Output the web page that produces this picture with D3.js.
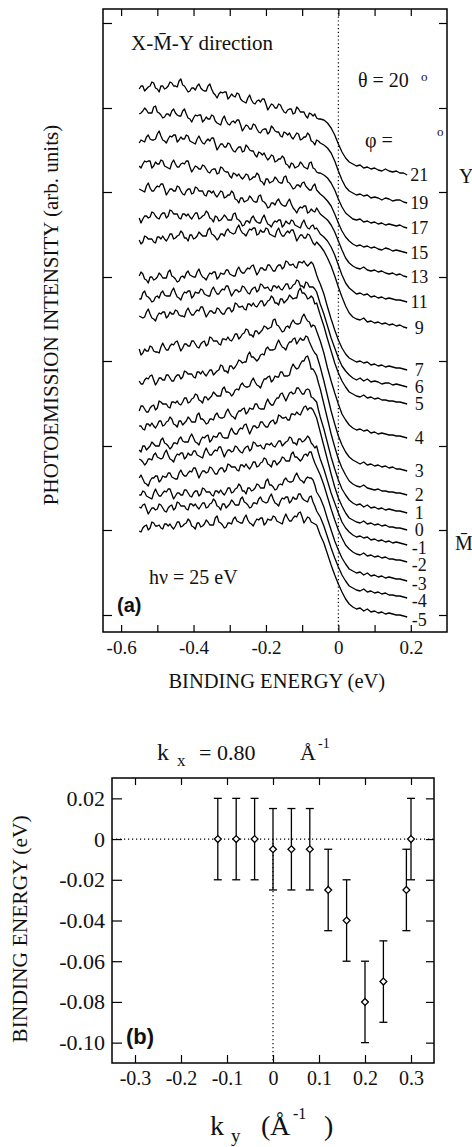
<!DOCTYPE html>
<html>
<head>
<meta charset="utf-8">
<script src="https://cdn.jsdelivr.net/npm/d3@7"></script>
<style>
  body { margin: 0; background: #fff; }
  svg { display: block; }
</style>
</head>
<body>
<div id="vis"></div>
<script>
// ---- panel (a) data : photoemission spectra, stacked ----
// finer sampling below -0.05 eV, where the noise is
var energies = [
  -0.550,-0.545,-0.540,-0.535,-0.530,-0.525,-0.520,-0.515,-0.510,-0.505,
  -0.500,-0.495,-0.490,-0.485,-0.480,-0.475,-0.470,-0.465,-0.460,-0.455,
  -0.450,-0.445,-0.440,-0.435,-0.430,-0.425,-0.420,-0.415,-0.410,-0.405,
  -0.400,-0.395,-0.390,-0.385,-0.380,-0.375,-0.370,-0.365,-0.360,-0.355,
  -0.350,-0.345,-0.340,-0.335,-0.330,-0.325,-0.320,-0.315,-0.310,-0.305,
  -0.300,-0.295,-0.290,-0.285,-0.280,-0.275,-0.270,-0.265,-0.260,-0.255,
  -0.250,-0.245,-0.240,-0.235,-0.230,-0.225,-0.220,-0.215,-0.210,-0.205,
  -0.200,-0.195,-0.190,-0.185,-0.180,-0.175,-0.170,-0.165,-0.160,-0.155,
  -0.150,-0.145,-0.140,-0.135,-0.130,-0.125,-0.120,-0.115,-0.110,-0.105,
  -0.100,-0.095,-0.090,-0.085,-0.080,-0.075,-0.070,-0.065,-0.060,-0.055,
  -0.05,-0.04,-0.03,-0.02,-0.01,0,0.01,0.02,0.03,0.04,
  0.05,0.06,0.07,0.08,0.09,0.10,0.11,0.12,0.13,0.14,0.15,0.16,0.17,0.18,0.19]

var phiLabels = ["21","19","17","15","13","11","9","7","6","5","4","3","2","1","0","-1","-2","-3","-4","-5"]
// vertical offset of each spectrum (arb. units)
var phiOffsets = [440,412,387,362,338,313,287,245,228,211,177,144,120,102,85,70,53,34,17,-2]

var phi21 = [86,89,89,84,86,88,89,93,92,87, 86,83,89,89,86,87,89,93,92,89, 89,88,94,96,90,89,86,83,84,87, 87,85,89,91,87,85,84,84,89,91,
  86,82,80,77,81,83,82,83,83,76, 78,81,79,78,82,81,76,74,73,72, 77,80,75,72,71,74,75,73,76,76, 71,65,68,71,70,67,67,71,70,66,
  63,62,65,66,66,61,62,68,66,63, 63,63,59,57,62,61,59,61,57,56,
  56,55,52,47,40,31,23,17,13,11, 9,10,7,8,6,7,5,4,6,4, 3,4,2,2,0]
var phi19 = [89,90,92,95,93,90,90,90,96,97, 91,90,88,85,86,89,89,87,92,94, 90,88,87,87,92,94,89,85,84,81, 85,88,87,88,88,81,83,86,84,84,
  88,87,82,80,79,78,84,87,82,79, 78,81,82,80,83,83,78,72,75,78, 77,74,74,79,78,74,71,70,73,74, 74,69,71,77,75,72,71,71,67,66,
  71,70,68,70,66,64,67,70,69,63, 64,66,66,70,68,62,61,58,63,62,
  60,58,55,50,42,32,23,16,12,10, 8,9,7,8,5,6,5,3,5,4, 2,3,3,1,0]
var phi17 = [85,88,87,86,91,93,89,88,88,89, 94,97,92,88,87,85,89,92,91,93, 93,86,88,91,89,89,93,92,87,86, 85,84,89,92,88,85,84,87,89,87,
  90,90,84,78,81,84,84,81,81,85, 84,80,77,76,79,81,81,76,77,83, 81,78,77,77,73,71,76,75,73,75, 71,68,70,73,72,66,67,69,69,72,
  70,64,63,60,65,64,60,61,62,66, 64,61,60,59,65,66,60,59,56,55,
  55,53,50,45,38,29,21,15,12,9, 8,9,6,7,5,6,4,5,3,4, 3,2,3,1,0]
var phi15 = [87,85,89,92,91,92,92,85,87,91, 89,89,93,92,87,86,85,84,90,93, 89,86,86,89,90,89,92,92,86,81, 84,87,86,84,84,88,87,84,81,80,
  83,84,84,79,80,86,85,82,81,81, 77,75,80,79,77,79,76,74,76,79, 78,73,74,76,76,80,78,72,71,68, 74,74,70,71,72,76,74,71,70,70,
  76,77,71,70,67,64,65,68,68,66, 70,71,67,65,63,63,67,69,63,61,
  59,56,52,47,39,30,22,16,12,9, 7,8,6,7,5,6,4,3,5,4, 2,3,2,1,0]
var phi13 = [88,87,86,85,91,94,89,86,86,89, 91,90,93,93,88,82,85,88,88,86, 86,91,90,86,83,82,86,88,88,83, 84,90,89,86,86,86,82,81,86,86,
  84,86,82,80,83,86,85,79,80,82, 82,86,84,78,77,74,79,79,75,76, 77,81,79,76,75,75,81,82,76,75, 73,69,70,74,74,72,76,78,74,72,
  71,71,75,78,73,69,67,64,68,70, 69,71,71,64,65,68,66,65,69,66,
  63,60,57,52,45,36,27,19,14,11, 9,8,10,7,6,7,5,6,4,3, 4,2,3,1,0]
var phi11 = [84,79,83,86,86,84,85,90,89,86, 84,83,87,89,89,84,86,92,91,88, 88,88,84,83,88,88,86,88,85,83, 86,89,89,83,84,86,87,91,89,84,
  83,80,86,85,81,82,84,87,85,82, 82,82,88,89,83,82,80,76,77,81, 81,79,84,86,82,80,79,79,84,87, 82,78,77,75,79,81,80,82,82,75,
  77,81,79,78,82,81,77,76,75,74, 79,82,77,74,73,76,77,73,74,71,
  68,65,61,55,47,37,27,19,14,11, 8,9,7,8,5,6,4,5,3,4, 3,2,2,1,0]
var phi9 = [88,84,86,92,91,89,89,89,86,85, 91,91,89,92,89,87,90,94,94,89, 90,92,93,97,95,90,90,87,93,93, 89,90,92,96,94,92,92,92,98,100,
  94,93,91,88,90,94,94,92,97,99, 96,95,94,95,100,103,98,95,94,92, 96,99,98,100,100,93,94,98,96,96, 100,99,94,93,92,91,97,100,95,92,
  92,95,97,95,98,98,93,87,90,93, 93,90,90,94,93,89,85,83,86,84,
  82,77,70,62,52,41,31,22,15,11, 9,8,10,6,7,5,6,4,5,3, 4,2,3,1,0]
var phi7 = [94,98,96,91,90,87,93,93,90,91, 93,97,95,92,92,92,98,100,94,93, 91,88,89,93,94,92,97,99,95,94, 93,93,98,101,96,93,92,90,94,97,
  96,98,98,91,93,97,96,96,100,100, 96,95,94,94,100,103,99,97,97,100, 102,101,104,105,100,95,98,102,102,100, 100,105,105,102,99,99,103,105,105,101,
  103,109,108,105,105,106,103,102,108,108, 107,109,106,104,106,108,106,101,95,90,
  86,76,63,51,40,30,22,16,12,10, 8,9,7,8,5,6,4,5,3,4, 3,2,2,1,0]
var phi6 = [88,88,94,96,91,90,88,85,86,90, 91,89,94,96,92,91,91,91,96,99, 94,90,89,87,92,95,94,96,96,89, 91,95,94,94,98,97,93,92,91,91,
  97,100,96,93,93,96,98,97,101,101, 96,91,94,97,97,95,96,101,100,97, 94,93,97,99,100,95,97,103,102,99, 99,100,97,96,101,101,99,101,98,97,
  100,103,103,98,99,102,103,107,106,101, 101,99,105,104,100,100,100,98,95,89,
  83,73,61,49,39,29,21,16,12,9, 7,9,6,8,5,6,5,3,4,4, 2,3,2,1,0]
var phi5 = [88,87,86,87,92,95,90,86,85,83, 88,91,90,92,92,86,88,92,90,90, 94,93,89,88,88,87,93,96,92,89, 89,92,94,93,97,97,92,87,90,93,
  93,91,91,96,95,92,90,90,94,96, 96,92,94,101,100,97,97,98,95,94, 100,100,98,101,98,97,100,103,103,98, 100,103,104,108,106,101,101,99,105,105,
  101,103,105,109,107,105,106,106,113,116, 111,111,109,105,106,108,106,100,101,95,
  89,78,65,53,41,31,23,17,12,10, 8,7,9,6,7,5,6,4,4,3, 3,2,2,1,0]
var phi4 = [89,83,85,89,87,87,92,91,87,86, 86,85,91,95,91,88,88,92,94,93, 96,97,92,87,90,94,94,92,92,97, 97,94,91,90,94,96,97,92,94,101,
  100,97,97,97,94,93,99,99,98,101, 98,97,100,104,104,99,101,104,105,109, 108,103,103,101,107,107,104,106,108,112, 111,109,110,111,118,119,113,112,109,106,
  107,111,112,110,115,118,115,114,114,115, 121,124,120,117,116,111,113,112,107,102,
  97,85,70,57,45,34,24,18,13,10, 8,9,7,8,5,6,4,5,4,3, 3,2,2,1,0]
var phi3 = [90,87,87,91,93,92,95,96,91,86, 89,93,93,91,91,96,96,93,90,90, 94,96,96,92,94,100,99,97,97,97, 94,93,99,99,97,100,97,95,98,101,
  101,96,98,100,101,106,105,100,100,98, 105,105,102,104,107,111,110,108,109,109, 116,119,114,114,112,110,112,116,117,116, 122,124,121,121,121,122,127,131,127,124,
  123,121,126,129,129,132,133,127,130,133, 131,131,135,134,129,125,121,118,116,110,
  104,90,75,60,47,35,26,19,14,11, 9,7,9,6,7,5,6,4,5,3, 4,2,2,1,0]
var phi2 = [84,89,89,86,83,83,87,89,90,85, 87,94,93,91,91,91,88,87,93,93, 92,94,91,90,93,97,97,92,93,96, 97,101,100,95,94,92,98,98,95,97,
  99,103,101,99,99,99,106,108,103,103, 102,99,101,105,106,105,110,112,109,108, 108,109,114,117,113,110,109,107,112,116, 116,118,119,113,115,119,118,118,123,123,
  119,119,119,120,127,131,128,126,127,131, 134,134,138,139,134,126,126,123,119,112,
  106,91,76,61,48,36,27,20,14,11, 9,8,10,7,6,5,6,4,4,3, 3,2,2,1,0]
var phi1 = [87,87,84,83,89,89,87,90,87,85, 88,92,92,87,88,91,92,96,94,89, 88,86,92,92,88,90,92,96,94,91, 91,91,98,100,94,94,92,89,90,94,
  94,93,98,100,96,95,95,96,101,104, 100,97,96,94,99,102,102,104,105,99, 101,105,104,104,109,109,105,104,104,104, 110,114,110,108,108,112,115,115,119,120,
  116,112,116,120,121,119,120,125,125,122, 119,119,123,124,123,116,115,113,111,103,
  96,84,70,56,44,33,24,18,13,10, 8,9,6,8,5,6,4,5,3,4, 3,2,2,1,0]
var phi0 = [80,78,84,84,80,82,84,88,86,84, 84,84,90,92,87,86,84,81,83,87, 87,86,91,93,89,88,88,88,93,96, 92,88,87,85,90,93,92,94,95,88,
  90,94,93,93,97,97,93,92,92,92, 98,102,98,96,96,100,102,101,105,106, 101,96,100,104,104,102,103,108,108,105, 103,103,107,109,110,106,108,115,114,112,
  112,113,110,110,116,116,115,118,116,115, 119,123,124,120,122,122,120,116,112,105,
  98,84,70,56,43,32,24,17,12,10, 8,7,9,6,7,5,6,4,5,3, 3,2,2,1,0]
var phiM1 = [86,85,83,80,82,86,86,85,90,92, 88,87,86,87,92,95,90,86,85,83, 88,91,90,92,92,86,88,92,90,90, 94,94,90,89,88,87,93,97,93,90,
  90,93,95,94,98,98,93,88,92,95, 95,93,94,99,98,95,93,92,96,98, 99,94,96,103,102,99,99,100,97,96, 101,101,100,102,99,98,101,104,104,99,
  101,103,104,108,107,102,102,100,106,106, 103,104,106,109,107,102,100,97,99,92,
  86,76,64,52,42,32,23,17,13,10, 8,9,7,8,5,6,4,5,3,4, 2,3,2,1,0]
var phiM2 = [84,87,83,79,78,76,81,84,84,86, 86,80,82,86,85,85,89,89,85,84, 83,83,89,92,88,86,86,89,91,90, 94,94,89,84,88,91,91,89,90,95,
  94,91,88,88,92,94,94,90,92,98, 97,95,95,95,92,91,97,97,95,98, 95,93,96,100,100,95,96,99,100,104, 103,98,97,95,101,101,97,99,101,105,
  104,101,101,101,108,110,105,105,103,101, 103,107,108,106,110,110,104,99,95,91,
  87,77,65,53,42,32,24,17,13,10, 8,7,9,6,7,5,6,4,5,3, 3,2,2,1,0]
var phiM3 = [86,86,90,89,85,84,83,82,88,92, 88,85,85,88,90,89,92,92,87,82, 85,88,88,86,86,91,91,88,85,84, 88,90,90,85,87,93,92,89,89,89,
  86,85,90,90,88,91,88,86,89,93, 93,88,89,92,93,97,95,90,90,87, 93,93,90,91,93,97,96,93,93,93, 100,102,96,96,94,91,92,96,97,96,
  101,103,100,99,99,100,105,108,104,101, 100,98,102,104,103,103,101,96,89,86,
  83,74,62,51,40,31,23,17,12,10, 8,9,6,8,5,6,4,5,3,4, 3,2,2,1,0]
var phiM4 = [91,90,93,94,89,84,87,90,90,88, 89,94,93,90,87,86,90,92,93,88, 90,96,95,92,92,92,89,88,94,94, 92,94,91,89,92,95,95,90,91,94,
  95,99,97,92,91,88,94,94,90,92, 94,98,96,93,93,93,99,101,96,95, 93,90,91,95,95,94,99,101,97,96, 95,96,101,104,99,95,94,92,97,100,
  99,101,101,95,97,101,99,99,104,104, 100,98,97,96,101,102,96,92,87,84,
  81,72,61,50,40,31,23,17,12,10, 8,7,9,6,7,5,6,4,5,3, 3,2,2,1,0]
var phiM5 = [86,85,89,91,92,87,89,95,94,91, 91,92,89,88,93,93,91,93,90,88, 91,95,95,90,91,93,94,98,96,91, 90,88,94,94,90,91,93,97,95,92,
  92,92,99,101,95,94,92,89,90,94, 94,93,98,100,96,95,94,94,99,102, 97,94,93,91,95,98,97,99,99,92, 94,98,97,97,101,100,96,95,94,93,
  99,103,99,96,96,99,101,100,104,105, 100,94,97,100,99,95,94,93,92,87,
  82,74,63,52,42,33,25,18,13,10, 8,9,6,8,5,6,4,5,3,4, 3,2,2,1,0]

var spectra = [phi21,phi19,phi17,phi15,phi13,phi11,phi9,phi7,phi6,phi5,phi4,phi3,phi2,phi1,phi0,phiM1,phiM2,phiM3,phiM4,phiM5]

var energyTicks = [-0.6,-0.5,-0.4,-0.3,-0.2,-0.1,0,0.1,0.2]
var energyTickLabels = ["-0.6","","-0.4","","-0.2","","0","","0.2"]
var intensityTicks = [0,85,169,254,338,423,507,592]

// ---- panel (b) data : band position vs k_y ----
var kyValues = [-0.12,-0.08,-0.04,0,0.04,0.08,0.12,0.16,0.20,0.24,0.29,0.30]
var bindingValues = [0,0,0,-0.005,-0.005,-0.005,-0.025,-0.04,-0.08,-0.07,-0.025,0]
var bindingErrors = [0.02,0.02,0.02,0.02,0.02,0.02,0.02,0.02,0.02,0.02,0.02,0.02]
var kyTicks = [-0.3,-0.2,-0.1,0,0.1,0.2,0.3]
var kyTickLabels = ["-0.3","-0.2","-0.1","0","0.1","0.2","0.3"]
var bindingTicks = [0.02,0,-0.02,-0.04,-0.06,-0.08,-0.10]
var bindingTickLabels = ["0.02","0","-0.02","-0.04","-0.06","-0.08","-0.10"]

var serif = "'Liberation Serif', 'Times New Roman', serif"
var bold = "'Liberation Sans', Arial, sans-serif"

var svg = d3.select("#vis").append("svg").attr("width",472).attr("height",1147)

drawPanelA(svg)
drawPanelB(svg)

function styleAxis(sel, size){
    sel.select(".domain").remove()
    sel.attr("font-family",serif).attr("font-size",size)
    sel.selectAll(".tick line").attr("stroke","#000").attr("stroke-width",1.2)
    sel.selectAll(".tick text").attr("fill","#111")
}

function addText(g, x, y, str, size, extra){
    var t = g.append("text").attr("x",x).attr("y",y)
        .attr("font-family",serif).attr("font-size",size).attr("fill","#111").text(str)
    if(extra) extra(t)
    return t
}

function drawPanelA(svg){
    var x = d3.scaleLinear().domain([-0.65,0.30]).range([103,447])
    var y = d3.scaleLinear().domain([-17,606]).range([632,9])
    var g = svg.append("g").attr("class","panelA")

//axes, ticks point inward
    g.append("g").attr("transform","translate(0,632)")
        .call(d3.axisBottom(x).tickValues(energyTicks).tickSize(-7).tickPadding(9)
            .tickFormat(function(d,i){ return energyTickLabels[i] }))
        .call(styleAxis,19)
    g.append("g").attr("transform","translate(0,9)")
        .call(d3.axisTop(x).tickValues(energyTicks).tickSize(-7).tickFormat(""))
        .call(styleAxis,19)
    g.append("g").attr("transform","translate(103,0)")
        .call(d3.axisLeft(y).tickValues(intensityTicks).tickSize(-9).tickFormat(""))
        .call(styleAxis,19)
    g.append("g").attr("transform","translate(447,0)")
        .call(d3.axisRight(y).tickValues(intensityTicks).tickSize(-8).tickFormat(""))
        .call(styleAxis,19)

    g.append("rect").attr("x",103).attr("y",9).attr("width",344).attr("height",623)
        .attr("fill","none").attr("stroke","#000").attr("stroke-width",1.5)

//fermi level
    g.append("line").attr("x1",x(0)).attr("x2",x(0)).attr("y1",9).attr("y2",632)
        .attr("stroke","#000").attr("stroke-width",1.2).attr("stroke-dasharray","1.2,2.6")

//spectra
    var line = d3.line()
        .x(function(d,i){ return x(energies[i]) })
        .y(function(d){ return y(d) })
    spectra.forEach(function(s,k){
        var vals = s.map(function(v){ return v + phiOffsets[k] })
        g.append("path").datum(vals).attr("d",line)
            .attr("fill","none").attr("stroke","#000").attr("stroke-width",1.3)
            .attr("stroke-linejoin","round")
        var shift = phiLabels[k].charAt(0)=="-" ? 3 : 0
        addText(g, x(energies[energies.length-1])+12, y(vals[vals.length-1])+shift, phiLabels[k], 18,
            function(t){ t.attr("dy","0.36em").attr("text-anchor","middle") })
    })

//labels
    addText(g,131,50,"X-M\u0304-Y direction",21)
    addText(g,358,87,"\u03b8 = 20",20)
    addText(g,421,81,"o",13)
    addText(g,365,147,"\u03c6 =",20)
    addText(g,437,136,"o",13)
    addText(g,459,183,"Y",20)
    addText(g,455,550,"M\u0304",20)
    addText(g,149,584,"h\u03bd = 25 eV",20)
    g.append("text").attr("x",117).attr("y",612).attr("font-family",bold).attr("font-weight","bold")
        .attr("font-size",20).attr("fill","#111").text("(a)")
    addText(g,x(-0.17),688,"BINDING ENERGY (eV)",20.5,function(t){ t.attr("text-anchor","middle") })
    addText(g,0,0,"PHOTOEMISSION INTENSITY (arb. units)",21,function(t){
        t.attr("text-anchor","middle").attr("transform","translate(58,315) rotate(-90)")
    })
}

function drawPanelB(svg){
    var x = d3.scaleLinear().domain([-0.35,0.35]).range([112,434])
    var y = d3.scaleLinear().domain([-0.11,0.03]).range([1063,778])
    var g = svg.append("g").attr("class","panelB")

    g.append("g").attr("transform","translate(0,1063)")
        .call(d3.axisBottom(x).tickValues(kyTicks).tickSize(-8).tickPadding(8)
            .tickFormat(function(d,i){ return kyTickLabels[i] }))
        .call(styleAxis,20)
    g.append("g").attr("transform","translate(0,778)")
        .call(d3.axisTop(x).tickValues(kyTicks).tickSize(-7).tickFormat(""))
        .call(styleAxis,20)
    g.append("g").attr("transform","translate(112,0)")
        .call(d3.axisLeft(y).tickValues(bindingTicks).tickSize(-10).tickPadding(7)
            .tickFormat(function(d,i){ return bindingTickLabels[i] }))
        .call(styleAxis,22)
    g.append("g").attr("transform","translate(434,0)")
        .call(d3.axisRight(y).tickValues(bindingTicks).tickSize(-8).tickFormat(""))
        .call(styleAxis,22)

    g.append("rect").attr("x",112).attr("y",778).attr("width",322).attr("height",285)
        .attr("fill","none").attr("stroke","#000").attr("stroke-width",1.5)

//zero lines
    g.append("line").attr("x1",112).attr("x2",434).attr("y1",y(0)).attr("y2",y(0))
        .attr("stroke","#000").attr("stroke-width",1.2).attr("stroke-dasharray","1.2,2.8")
    g.append("line").attr("x1",x(0)).attr("x2",x(0)).attr("y1",y(0)).attr("y2",1063)
        .attr("stroke","#000").attr("stroke-width",1.2).attr("stroke-dasharray","1.2,2.8")

//error bars
    var pts = kyValues.map(function(k,i){ return {k:k, e:bindingValues[i], err:bindingErrors[i]} })
    var bars = g.selectAll(".bar").data(pts).enter().append("g").attr("class","bar")
    bars.append("line")
        .attr("x1",function(d){ return x(d.k) }).attr("x2",function(d){ return x(d.k) })
        .attr("y1",function(d){ return y(d.e+d.err) }).attr("y2",function(d){ return y(d.e-d.err) })
        .attr("stroke","#000").attr("stroke-width",1.3)
    bars.append("line")
        .attr("x1",function(d){ return x(d.k)-4 }).attr("x2",function(d){ return x(d.k)+4 })
        .attr("y1",function(d){ return y(d.e+d.err) }).attr("y2",function(d){ return y(d.e+d.err) })
        .attr("stroke","#000").attr("stroke-width",1.3)
    bars.append("line")
        .attr("x1",function(d){ return x(d.k)-4 }).attr("x2",function(d){ return x(d.k)+4 })
        .attr("y1",function(d){ return y(d.e-d.err) }).attr("y2",function(d){ return y(d.e-d.err) })
        .attr("stroke","#000").attr("stroke-width",1.3)
    bars.append("path")
        .attr("d",d3.symbol().type(d3.symbolDiamond2).size(30))
        .attr("transform",function(d){ return "translate("+x(d.k)+","+y(d.e)+")" })
        .attr("fill","#fff").attr("stroke","#000").attr("stroke-width",1.3)

//labels
    g.append("text").attr("x",126).attr("y",1044).attr("font-family",bold).attr("font-weight","bold")
        .attr("font-size",22).attr("fill","#111").text("(b)")
    addText(g,157,760,"k",24)
    addText(g,177,766,"x",17)
    addText(g,199,760,"= 0.80",22,function(t){ t.attr("xml:space","preserve") })
    addText(g,300,760,"\u00c5",22)
    addText(g,318,748,"-1",14)
    addText(g,0,0,"BINDING ENERGY (eV)",21.5,function(t){
        t.attr("text-anchor","middle").attr("transform","translate(27,929) rotate(-90)")
    })
    addText(g,210,1135,"k",28)
    addText(g,231,1142,"y",19)
    addText(g,261,1135,"(",28)
    addText(g,270,1135,"\u00c5",28)
    addText(g,293,1119,"-1",16)
    addText(g,324,1135,")",28)
}
</script>
</body>
</html>
